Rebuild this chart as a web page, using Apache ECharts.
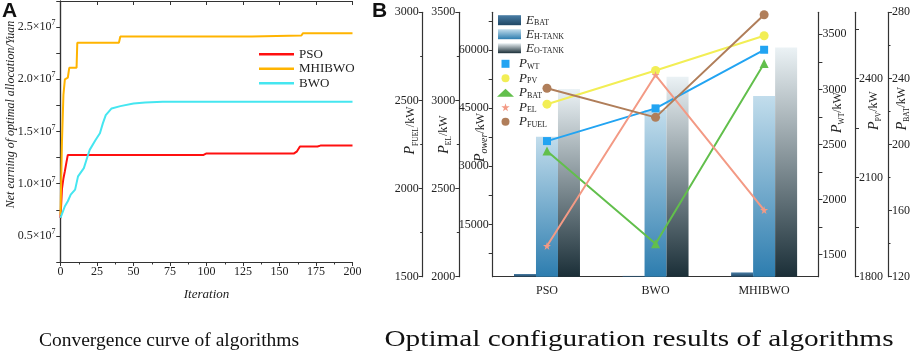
<!DOCTYPE html>
<html>
<head>
<meta charset="utf-8">
<title>algorithms</title>
<script src="https://cdn.jsdelivr.net/npm/echarts@6/dist/echarts.min.js"></script>
<style>
  * { margin: 0; padding: 0 }
  html, body { width: 100%; height: 100%; background: #fff; }
  #chart { width: 913px; height: 356px; }
</style>
</head>
<body>
<div id="chart"></div>
<script>
// ---- panel A: convergence (net earning, unit 1e7 yuan) ----
const psoIter = [0, 1, 2, 3, 4, 5, 98, 100, 160, 162, 163, 164, 176, 178, 200];
const psoVal = [0.67, 0.95, 1.05, 1.12, 1.2, 1.276, 1.276, 1.29, 1.29, 1.31, 1.31, 1.356, 1.356, 1.365, 1.365];
const mhIter = [0, 1, 2, 3, 5, 6, 11, 11.5, 40, 41, 131, 132, 165, 166, 200];
const mhVal = [0.7, 1.4, 1.85, 2.0, 2.015, 2.11, 2.11, 2.35, 2.35, 2.41, 2.41, 2.42, 2.42, 2.44, 2.44];
const bwoIter = [0, 3, 5, 7, 10, 11, 12, 16, 18.5, 20, 24, 27, 29, 31, 35, 41, 50, 58, 70, 200];
const bwoVal = [0.673, 0.784, 0.832, 0.895, 0.943, 0.943, 1.07, 1.149, 1.26, 1.324, 1.419, 1.483, 1.578, 1.657, 1.721, 1.743, 1.768, 1.778, 1.784, 1.784];

// ---- panel B: optimal configuration ----
const algos = ['PSO', 'BWO', 'MHIBWO'];
const eBat = [2200, 1700, 2600];
const eHTank = [37600, 44500, 48100];
const eOTank = [49900, 53100, 60600];
const pWT = [2531, 2828, 3360];
const pPV = [2322, 2424, 2529];
const pBAT = [196, 140, 249];
const pEL = [2174, 3144, 2378];
const pFUEL = [2569, 2404, 2986];

const powerLabels = [15000, 30000, 45000, 60000];
const powerTicks = [7500, 15000, 22500, 30000, 37500, 45000, 52500, 60000, 67500];
const wtLabels = [1500, 2000, 2500, 3000, 3500];
const wtTicks = [1500, 1750, 2000, 2250, 2500, 2750, 3000, 3250, 3500];
const pvLabels = [1800, 2100, 2400];
const pvTicks = [1800, 1950, 2100, 2250, 2400, 2550];

const serif = '"Liberation Serif", "DejaVu Serif", serif';
const ink = '#222';

const pairs = (xs, ys) => xs.map((x, i) => [x, ys[i]]);

// rich text for names like P_FUEL/kW
const nameRich = {
    i: { fontFamily: serif, fontStyle: 'italic', fontSize: 14, lineHeight: 18, color: ink },
    s: { fontFamily: serif, fontSize: 7.5, lineHeight: 7.5, verticalAlign: 'bottom', color: ink },
    si: { fontFamily: serif, fontStyle: 'italic', fontSize: 10, lineHeight: 10, verticalAlign: 'bottom', color: ink },
    n: { fontFamily: serif, fontSize: 12, lineHeight: 18, color: ink }
};
const axisLine = { show: true, lineStyle: { color: '#333', width: 1.2 } };
const labelStyle = { fontFamily: serif, fontSize: 12, color: ink, margin: 4, formatter: v => String(v) };

function yB(o) {
    return Object.assign({
        type: 'value', gridIndex: 1, nameLocation: 'middle', nameMoveOverlap: false,
        axisLine: axisLine, splitLine: { show: false },
        axisTick: { show: true, length: 4, lineStyle: { color: '#333' } },
        minorTick: { show: true, splitNumber: 2, length: 2.5 },
        axisLabel: labelStyle,
        nameTextStyle: { rich: nameRich }
    }, o);
}

const starPath = 'path://M50,0 L61,35 L98,35 L68,57 L79,92 L50,70 L21,92 L32,57 L2,35 L39,35 Z';
const squarePath = 'path://M0,0 L10,0 L10,10 L0,10 Z';

const grad = (top, bottom) => new echarts.graphic.LinearGradient(0, 0, 0, 1, [
    { offset: 0, color: top }, { offset: 1, color: bottom }]);

const subFormatter = name => {
    const [a, b] = name.split('_');
    return '{i|' + a + '}{s|' + b + '}';
};
const legendRich = {
    i: { fontFamily: serif, fontStyle: 'italic', fontSize: 13, lineHeight: 14, color: ink },
    s: { fontFamily: serif, fontSize: 8, lineHeight: 8, verticalAlign: 'bottom', color: ink }
};

const chart = echarts.init(document.getElementById('chart'));
chart.setOption({
    animation: false,
    grid: [
        { left: 60.5, right: 560.5, top: 1, bottom: 94 },
        { left: 492.7, right: 90.3, top: 12.3, bottom: 79.3 }
    ],
    xAxis: [
        {
            type: 'value', gridIndex: 0, min: 0, max: 200, interval: 25,
            axisLine: axisLine, splitLine: { show: false },
            axisTick: { length: 4, lineStyle: { color: '#333' } },
            minorTick: { show: true, splitNumber: 2, length: 2.5 },
            axisLabel: labelStyle,
            name: 'Iteration', nameLocation: 'middle', nameGap: 26, nameMoveOverlap: false,
            nameTextStyle: { fontFamily: serif, fontStyle: 'italic', fontSize: 13, color: ink }
        },
        {
            type: 'value', gridIndex: 0, position: 'top', min: 0, max: 200, interval: 25,
            axisLine: axisLine, splitLine: { show: false },
            axisTick: { inside: true, length: 4, lineStyle: { color: '#333' } },
            axisLabel: { show: false }
        },
        {
            type: 'category', gridIndex: 1, data: algos,
            axisLine: axisLine, axisTick: { show: false },
            axisLabel: { fontFamily: serif, fontSize: 12, color: ink, margin: 8 }
        }
    ],
    yAxis: [
        {
            type: 'value', gridIndex: 0, min: 0.25, max: 2.75, interval: 0.25,
            axisLine: axisLine, splitLine: { show: false },
            axisTick: { length: 4, lineStyle: { color: '#333' } },
            axisLabel: {
                fontFamily: serif, color: ink, margin: 5,
                formatter: v => {
                    const k = v / 0.5;
                    if (Math.abs(k - Math.round(k)) > 1e-6) return '';
                    return '{a|' + v.toFixed(1) + '×10}{b|7}';
                },
                rich: {
                    a: { fontFamily: serif, fontSize: 12, lineHeight: 16, color: ink },
                    b: { fontFamily: serif, fontSize: 8, lineHeight: 8, verticalAlign: 'top', color: ink }
                }
            },
            name: 'Net earning of optimal allocation/Yuan', nameLocation: 'middle', nameGap: 44, nameMoveOverlap: false,
            nameTextStyle: { fontFamily: serif, fontStyle: 'italic', fontSize: 12, color: ink, padding: [0, 0, 0, 34] }
        },
        {
            type: 'value', gridIndex: 0, position: 'right', min: 0.25, max: 2.75, interval: 0.25,
            axisLine: axisLine, splitLine: { show: false },
            axisTick: { inside: true, length: 4, lineStyle: { color: '#333' } },
            axisLabel: { show: false }
        },
        yB({ // 2: Power
            position: 'left', offset: 0, min: 1500, max: 69700,
            axisLabel: Object.assign({}, labelStyle, { customValues: powerLabels }),
            axisTick: { show: true, length: 4, customValues: powerTicks, lineStyle: { color: '#333' } },
            minorTick: { show: false },
            name: '{i|P}{si|ower}{n|/kW}', nameGap: 3,
            nameTextStyle: { rich: nameRich, padding: [0, 0, 0, 14] }
        }),
        yB({ // 3: P_FUEL
            position: 'left', offset: 70, min: 1500, max: 3000, interval: 500,
            name: '{i|P}{s|FUEL}{n|/kW}', nameGap: 3,
            nameTextStyle: { rich: nameRich, padding: [0, 0, 0, 28] }
        }),
        yB({ // 4: P_EL
            position: 'left', offset: 33.4, min: 2000, max: 3500, interval: 500,
            name: '{i|P}{s|EL}{n|/kW}', nameGap: 6,
            nameTextStyle: { rich: nameRich, padding: [0, 0, 0, 20] }
        }),
        yB({ // 5: P_WT
            position: 'right', offset: 0, min: 1300, max: 3700,
            axisLabel: Object.assign({}, labelStyle, { customValues: wtLabels }),
            axisTick: { show: true, length: 4, customValues: wtTicks, lineStyle: { color: '#333' } },
            minorTick: { show: false },
            name: '{i|P}{s|WT}{n|/kW}', nameGap: 10,
            nameTextStyle: { rich: nameRich, padding: [0, 0, 0, 64] }
        }),
        yB({ // 6: P_PV
            position: 'right', offset: 36.6, min: 1800, max: 2600,
            axisLabel: Object.assign({}, labelStyle, { customValues: pvLabels }),
            axisTick: { show: true, length: 4, customValues: pvTicks, lineStyle: { color: '#333' } },
            minorTick: { show: false },
            name: '{i|P}{s|PV}{n|/kW}', nameGap: 10,
            nameTextStyle: { rich: nameRich, padding: [0, 0, 0, 68] }
        }),
        yB({ // 7: P_BAT
            position: 'right', offset: 69.6, min: 120, max: 280, interval: 40,
            name: '{i|P}{s|BAT}{n|/kW}', nameGap: 5,
            nameTextStyle: { rich: nameRich, padding: [0, 0, 0, 72] }
        })
    ],
    legend: [
        {
            data: [{ name: 'PSO', icon: 'rect' }, { name: 'MHIBWO', icon: 'rect' }, { name: 'BWO', icon: 'rect' }],
            orient: 'vertical', left: 259, top: 47, padding: 0,
            itemWidth: 35, itemHeight: 2.5, itemGap: 0,
            textStyle: { fontFamily: serif, fontSize: 13, color: ink, lineHeight: 14.5 }
        },
        {
            orient: 'vertical', left: 498, top: 13.7, padding: 0, itemWidth: 23, itemHeight: 10, itemGap: 0.5,
            data: [
                { name: 'E_BAT', icon: 'rect' }, { name: 'E_H-TANK', icon: 'rect' }, { name: 'E_O-TANK', icon: 'rect' }
            ],
            formatter: subFormatter, textStyle: { rich: legendRich }
        },
        {
            orient: 'vertical', left: 497, top: 57.3, padding: 0, itemWidth: 17, itemHeight: 8, itemGap: 1,
            data: [
                { name: 'P_WT', icon: squarePath }, { name: 'P_PV', icon: 'circle' }, { name: 'P_BAT', icon: 'triangle' },
                { name: 'P_EL', icon: starPath }, { name: 'P_FUEL', icon: 'circle' }
            ],
            formatter: subFormatter, textStyle: { rich: legendRich }
        }
    ],
    series: [
        { name: 'PSO', type: 'line', xAxisIndex: 0, yAxisIndex: 0, data: pairs(psoIter, psoVal), symbol: 'none', lineStyle: { width: 2, color: '#ff1010' }, itemStyle: { color: '#ff1010' } },
        { name: 'MHIBWO', type: 'line', xAxisIndex: 0, yAxisIndex: 0, data: pairs(mhIter, mhVal), symbol: 'none', lineStyle: { width: 2, color: '#ffb400' }, itemStyle: { color: '#ffb400' } },
        { name: 'BWO', type: 'line', xAxisIndex: 0, yAxisIndex: 0, data: pairs(bwoIter, bwoVal), symbol: 'none', lineStyle: { width: 2, color: '#45e6f0' }, itemStyle: { color: '#45e6f0' } },

        { name: 'E_BAT', type: 'bar', xAxisIndex: 2, yAxisIndex: 2, data: eBat, barWidth: 22, barGap: '0%', itemStyle: { color: grad('#4a7ea6', '#1f4664') } },
        { name: 'E_H-TANK', type: 'bar', xAxisIndex: 2, yAxisIndex: 2, data: eHTank, barWidth: 22, barGap: '0%', itemStyle: { color: grad('#c2ddec', '#2d7daf') } },
        { name: 'E_O-TANK', type: 'bar', xAxisIndex: 2, yAxisIndex: 2, data: eOTank, barWidth: 22, barGap: '0%', itemStyle: { color: grad('#ebf2f5', '#1b2f38') } },

        { name: 'P_WT', type: 'line', xAxisIndex: 2, yAxisIndex: 5, data: pWT, symbol: 'rect', symbolSize: 8, z: 5, lineStyle: { width: 2, color: '#22a4f2' }, itemStyle: { color: '#22a4f2' } },
        { name: 'P_PV', type: 'line', xAxisIndex: 2, yAxisIndex: 6, data: pPV, symbol: 'circle', symbolSize: 9, z: 5, lineStyle: { width: 2, color: '#f2ee55' }, itemStyle: { color: '#f2ee55' } },
        { name: 'P_BAT', type: 'line', xAxisIndex: 2, yAxisIndex: 7, data: pBAT, symbol: 'triangle', symbolSize: 9, z: 5, lineStyle: { width: 2, color: '#62bf4c' }, itemStyle: { color: '#62bf4c' } },
        { name: 'P_EL', type: 'line', xAxisIndex: 2, yAxisIndex: 4, data: pEL, symbol: starPath, symbolSize: 8, z: 5, lineStyle: { width: 2, color: '#f39a85' }, itemStyle: { color: '#f39a85' } },
        { name: 'P_FUEL', type: 'line', xAxisIndex: 2, yAxisIndex: 3, data: pFUEL, symbol: 'circle', symbolSize: 9, z: 5, lineStyle: { width: 2, color: '#b07e5a' }, itemStyle: { color: '#b07e5a' } }
    ],
    graphic: [
        { type: 'text', left: 2, top: 1, style: { text: 'A', font: 'bold 21px "Liberation Sans", Arial, sans-serif', fill: '#111' } },
        { type: 'text', left: 372, top: 1, style: { text: 'B', font: 'bold 21px "Liberation Sans", Arial, sans-serif', fill: '#111' } },
        { type: 'text', x: 169, y: 341, style: { text: 'Convergence curve of algorithms', font: '19.5px "Liberation Serif", serif', fill: '#111', align: 'center', verticalAlign: 'middle' } },
        { type: 'text', x: 639, y: 340, scaleX: 1.22, style: { text: 'Optimal configuration results of algorithms', font: '24px "Liberation Serif", serif', fill: '#111', align: 'center', verticalAlign: 'middle' } }
    ]
});
</script>
</body>
</html>
